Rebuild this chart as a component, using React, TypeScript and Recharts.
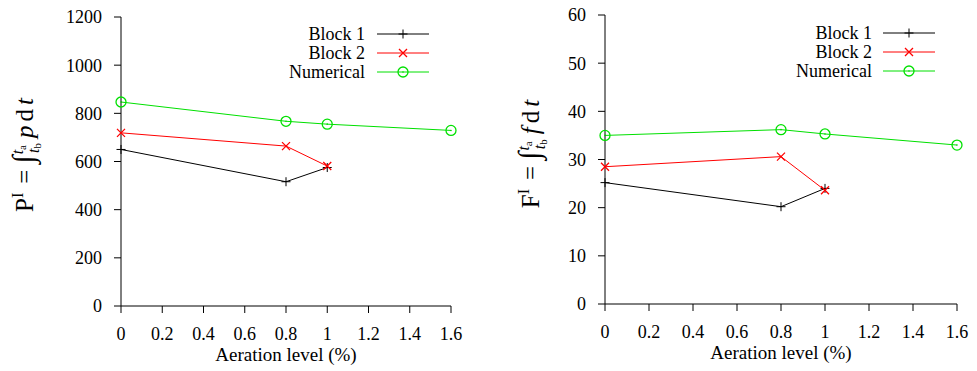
import { LineChart, Line, XAxis, YAxis, Legend } from 'recharts'

// aeration level (%) on the x axis
const aerationBlocks = [0, 0.8, 1]
const aerationNumerical = [0, 0.8, 1, 1.6]
const xTicks = [0, 0.2, 0.4, 0.6, 0.8, 1, 1.2, 1.4, 1.6]

// pressure impulse P^I
const pBlock1 = [650, 516, 575]
const pBlock2 = [719, 664, 581]
const pNumerical = [847, 767, 755, 729]
const pTicks = [0, 200, 400, 600, 800, 1000, 1200]

// force impulse F^I
const fBlock1 = [25.2, 20.2, 24.0]
const fBlock2 = [28.5, 30.6, 23.6]
const fNumerical = [35.0, 36.2, 35.3, 33.0]
const fTicks = [0, 10, 20, 30, 40, 50, 60]

const FONT = '"Liberation Serif", "Times New Roman", serif'
const GREEN = '#00e000'
const RED = '#ff0000'
const BLACK = '#000000'

type Kind = 'plus' | 'cross' | 'circle'

const zip = (xs: number[], ys: number[]) => xs.map((x, i) => ({ x, y: ys[i] }))

function Marker({ cx, cy, kind, color }: { cx?: number; cy?: number; kind: Kind; color: string }) {
  if (cx == null || cy == null) return null
  if (kind === 'plus') {
    return <path d={`M${cx - 4.5},${cy}H${cx + 4.5}M${cx},${cy - 4.5}V${cy + 4.5}`} stroke={color} strokeWidth={1} fill="none" />
  }
  if (kind === 'cross') {
    return <path d={`M${cx - 4},${cy - 4}L${cx + 4},${cy + 4}M${cx - 4},${cy + 4}L${cx + 4},${cy - 4}`} stroke={color} strokeWidth={1.3} fill="none" />
  }
  return (
    <g>
      <circle cx={cx} cy={cy} r={5} stroke={color} strokeWidth={1.3} fill="none" />
      <circle cx={cx} cy={cy} r={0.8} fill={color} />
    </g>
  )
}

const kindOf: Record<string, Kind> = { 'Block 1': 'plus', 'Block 2': 'cross', Numerical: 'circle' }

// gnuplot-style key: right-aligned label, then a line sample with the marker
function Key({ payload, textEnd, x0, x1, y0 }: any) {
  return (
    <svg width={490} height={90} style={{ display: 'block' }}>
      {(payload || []).map((p: any, i: number) => {
        const y = y0 + i * 19
        return (
          <g key={p.value}>
            <text x={textEnd} y={y + 6} textAnchor="end" fontFamily={FONT} fontSize={18} fill="#000">{p.value}</text>
            <line x1={x0} x2={x1} y1={y} y2={y} stroke={p.color} strokeWidth={1} />
            <Marker cx={(x0 + x1) / 2} cy={y} kind={kindOf[p.value]} color={p.color} />
          </g>
        )
      })}
    </svg>
  )
}

// rotated y label: Q^I = \int_{t_b}^{t_a} q dt
function ImpulseLabel({ cx, cy, big, small }: { cx: number; cy: number; big: string; small: string }) {
  return (
    <g transform={`translate(${cx},${cy}) rotate(-90)`}>
      <text textAnchor="middle" fontFamily={FONT} fontSize={25} fill="#000" style={{ fontFamily: FONT }}>
        <tspan>{big}</tspan>
        <tspan fontSize={16} dy={-10}>I</tspan>
        <tspan dy={10} dx={9}>=</tspan>
        <tspan dx={6} fontSize={30} fontStyle="italic">∫</tspan>
        <tspan fontSize={16} fontStyle="italic" dy={-10} dx={1}>t</tspan>
        <tspan fontSize={11} dy={3}>a</tspan>
        <tspan fontSize={16} fontStyle="italic" dx={-8} dy={13}>t</tspan>
        <tspan fontSize={11} dy={2}>b</tspan>
        <tspan fontStyle="italic" dy={-8} dx={5}>{small}</tspan>
        <tspan dx={4}>d</tspan>
        <tspan dx={4} fontStyle="italic">t</tspan>
      </text>
    </g>
  )
}

interface PanelProps {
  width: number
  margin: { top: number; right: number; left: number; bottom: number }
  yTicks: number[]
  block1: number[]
  block2: number[]
  numerical: number[]
  label: { cx: number; cy: number; big: string; small: string }
  keyPos: { textEnd: number; x0: number; x1: number; y0: number }
}

function Panel({ width, margin, yTicks, block1, block2, numerical, label, keyPos }: PanelProps) {
  const tick = { fontFamily: FONT, fontSize: 18, fill: '#000', style: { fontFamily: FONT } }
  return (
    <LineChart width={width} height={371} margin={margin} style={{ fontFamily: FONT }}>
      <XAxis
        type="number"
        dataKey="x"
        domain={[0, 1.6]}
        ticks={xTicks}
        tickFormatter={(v: number) => String(v)}
        height={45}
        tickSize={7}
        tickMargin={14}
        stroke="#000"
        tick={tick}
        label={{ value: 'Aeration level (%)', position: 'insideBottom', offset: -10, fontFamily: FONT, fontSize: 19, fill: '#000', style: { fontFamily: FONT } }}
      />
      <YAxis
        type="number"
        dataKey="y"
        domain={[yTicks[0], yTicks[yTicks.length - 1]]}
        ticks={yTicks}
        width={60}
        tickSize={7}
        tickMargin={12}
        stroke="#000"
        tick={tick}
        label={<ImpulseLabel {...label} />}
      />
      <Legend
        layout="vertical"
        align="center"
        verticalAlign="middle"
        width={490}
        height={90}
        wrapperStyle={{ left: 0, top: 0 }}
        content={(props: any) => <Key payload={props.payload} {...keyPos} />}
      />
      <Line data={zip(aerationBlocks, block1)} dataKey="y" name="Block 1" stroke={BLACK} strokeWidth={1}
        dot={<Marker kind="plus" color={BLACK} />} isAnimationActive={false} />
      <Line data={zip(aerationBlocks, block2)} dataKey="y" name="Block 2" stroke={RED} strokeWidth={1}
        dot={<Marker kind="cross" color={RED} />} isAnimationActive={false} />
      <Line data={zip(aerationNumerical, numerical)} dataKey="y" name="Numerical" stroke={GREEN} strokeWidth={1}
        dot={<Marker kind="circle" color={GREEN} />} isAnimationActive={false} />
    </LineChart>
  )
}

export default function App() {
  return (
    <div style={{ position: 'absolute', left: 0, top: 0, width: 977, height: 371, background: '#fff', fontFamily: FONT }}>
      <div style={{ position: 'absolute', left: 0, top: 0 }}>
        <Panel
          width={490}
          margin={{ top: 17, right: 39, left: 61, bottom: 20 }}
          yTicks={pTicks}
          block1={pBlock1}
          block2={pBlock2}
          numerical={pNumerical}
          label={{ cx: 33, cy: 155, big: 'P', small: 'p' }}
          keyPos={{ textEnd: 365, x0: 377, x1: 429, y0: 34 }}
        />
      </div>
      <div style={{ position: 'absolute', left: 490, top: 0 }}>
        <Panel
          width={487}
          margin={{ top: 15, right: 20, left: 55, bottom: 22 }}
          yTicks={fTicks}
          block1={fBlock1}
          block2={fBlock2}
          numerical={fNumerical}
          label={{ cx: 49, cy: 154, big: 'F', small: 'f' }}
          keyPos={{ textEnd: 382, x0: 393, x1: 445, y0: 33 }}
        />
      </div>
    </div>
  )
}
